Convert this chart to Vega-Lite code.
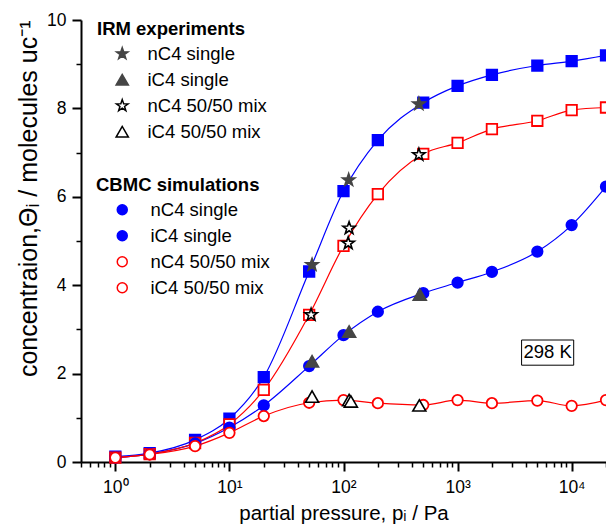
{
  "$schema": "https://vega.github.io/schema/vega-lite/v6.json",
  "width": 525,
  "height": 442,
  "autosize": {"type": "none"},
  "padding": {"left": 81, "top": 20, "right": 0, "bottom": 67},
  "background": "white",
  "config": {
    "view": {"stroke": null},
    "font": "Liberation Sans",
    "axis": {
      "grid": false,
      "domainColor": "black",
      "domainWidth": 2,
      "tickColor": "black",
      "labelColor": "black",
      "titleColor": "black",
      "labelFont": "Liberation Sans",
      "titleFont": "Liberation Sans",
      "labelFontSize": 17.5,
      "titleFontSize": 20.5,
      "titleFontWeight": "normal",
      "labelOverlap": false,
      "labelFlush": false
    },
    "legend": {
      "labelFont": "Liberation Sans",
      "titleFont": "Liberation Sans",
      "labelFontSize": 18.5,
      "titleFontSize": 18.5,
      "titleFontWeight": "bold",
      "labelColor": "black",
      "titleColor": "black",
      "padding": 0,
      "rowPadding": 7,
      "titlePadding": 6,
      "symbolStrokeWidth": 1.5
    }
  },
  "datasets": {
    "cbmc": [
      {"p": 1, "theta": 0.12, "sim": "nC4 single"},
      {"p": 2, "theta": 0.2, "sim": "nC4 single"},
      {"p": 5, "theta": 0.5, "sim": "nC4 single"},
      {"p": 10, "theta": 0.98, "sim": "nC4 single"},
      {"p": 20, "theta": 1.92, "sim": "nC4 single"},
      {"p": 50, "theta": 4.31, "sim": "nC4 single"},
      {"p": 100, "theta": 6.13, "sim": "nC4 single"},
      {"p": 200, "theta": 7.28, "sim": "nC4 single"},
      {"p": 500, "theta": 8.13, "sim": "nC4 single"},
      {"p": 1000, "theta": 8.51, "sim": "nC4 single"},
      {"p": 2000, "theta": 8.76, "sim": "nC4 single"},
      {"p": 5000, "theta": 8.97, "sim": "nC4 single"},
      {"p": 10000, "theta": 9.07, "sim": "nC4 single"},
      {"p": 20000, "theta": 9.2, "sim": "nC4 single"},
      {"p": 1, "theta": 0.1, "sim": "iC4 single"},
      {"p": 2, "theta": 0.18, "sim": "iC4 single"},
      {"p": 5, "theta": 0.42, "sim": "iC4 single"},
      {"p": 10, "theta": 0.78, "sim": "iC4 single"},
      {"p": 20, "theta": 1.28, "sim": "iC4 single"},
      {"p": 50, "theta": 2.17, "sim": "iC4 single"},
      {"p": 100, "theta": 2.87, "sim": "iC4 single"},
      {"p": 200, "theta": 3.4, "sim": "iC4 single"},
      {"p": 500, "theta": 3.82, "sim": "iC4 single"},
      {"p": 1000, "theta": 4.06, "sim": "iC4 single"},
      {"p": 2000, "theta": 4.3, "sim": "iC4 single"},
      {"p": 5000, "theta": 4.76, "sim": "iC4 single"},
      {"p": 10000, "theta": 5.36, "sim": "iC4 single"},
      {"p": 20000, "theta": 6.23, "sim": "iC4 single"},
      {"p": 1, "theta": 0.1, "sim": "nC4 50/50 mix"},
      {"p": 2, "theta": 0.18, "sim": "nC4 50/50 mix"},
      {"p": 5, "theta": 0.43, "sim": "nC4 50/50 mix"},
      {"p": 10, "theta": 0.85, "sim": "nC4 50/50 mix"},
      {"p": 20, "theta": 1.63, "sim": "nC4 50/50 mix"},
      {"p": 50, "theta": 3.33, "sim": "nC4 50/50 mix"},
      {"p": 100, "theta": 4.89, "sim": "nC4 50/50 mix"},
      {"p": 200, "theta": 6.06, "sim": "nC4 50/50 mix"},
      {"p": 500, "theta": 6.97, "sim": "nC4 50/50 mix"},
      {"p": 1000, "theta": 7.22, "sim": "nC4 50/50 mix"},
      {"p": 2000, "theta": 7.53, "sim": "nC4 50/50 mix"},
      {"p": 5000, "theta": 7.72, "sim": "nC4 50/50 mix"},
      {"p": 10000, "theta": 7.96, "sim": "nC4 50/50 mix"},
      {"p": 20000, "theta": 8.02, "sim": "nC4 50/50 mix"},
      {"p": 1, "theta": 0.1, "sim": "iC4 50/50 mix"},
      {"p": 2, "theta": 0.17, "sim": "iC4 50/50 mix"},
      {"p": 5, "theta": 0.36, "sim": "iC4 50/50 mix"},
      {"p": 10, "theta": 0.66, "sim": "iC4 50/50 mix"},
      {"p": 20, "theta": 1.04, "sim": "iC4 50/50 mix"},
      {"p": 50, "theta": 1.34, "sim": "iC4 50/50 mix"},
      {"p": 100, "theta": 1.4, "sim": "iC4 50/50 mix"},
      {"p": 200, "theta": 1.33, "sim": "iC4 50/50 mix"},
      {"p": 500, "theta": 1.29, "sim": "iC4 50/50 mix"},
      {"p": 1000, "theta": 1.4, "sim": "iC4 50/50 mix"},
      {"p": 2000, "theta": 1.33, "sim": "iC4 50/50 mix"},
      {"p": 5000, "theta": 1.39, "sim": "iC4 50/50 mix"},
      {"p": 10000, "theta": 1.27, "sim": "iC4 50/50 mix"},
      {"p": 20000, "theta": 1.4, "sim": "iC4 50/50 mix"}
    ],
    "irm": [
      {"p": 53, "theta": 4.46, "exp": "nC4 single"},
      {"p": 111, "theta": 6.38, "exp": "nC4 single"},
      {"p": 458, "theta": 8.1, "exp": "nC4 single"},
      {"p": 53, "theta": 2.28, "exp": "iC4 single"},
      {"p": 112, "theta": 2.95, "exp": "iC4 single"},
      {"p": 466, "theta": 3.79, "exp": "iC4 single"},
      {"p": 52, "theta": 3.33, "exp": "nC4 50/50 mix"},
      {"p": 110, "theta": 4.95, "exp": "nC4 50/50 mix"},
      {"p": 112, "theta": 5.29, "exp": "nC4 50/50 mix"},
      {"p": 458, "theta": 6.95, "exp": "nC4 50/50 mix"},
      {"p": 53, "theta": 1.48, "exp": "iC4 50/50 mix"},
      {"p": 112, "theta": 1.4, "exp": "iC4 50/50 mix"},
      {"p": 116, "theta": 1.37, "exp": "iC4 50/50 mix"},
      {"p": 462, "theta": 1.28, "exp": "iC4 50/50 mix"}
    ],
    "note": [
      {"p": 6150, "theta": 2.48, "p_lo": 3640, "p_hi": 10420, "theta_lo": 2.19, "theta_hi": 2.76, "label": "298 K"}
    ]
  },
  "encoding": {
    "x": {
      "field": "p",
      "type": "quantitative",
      "scale": {"type": "log", "domain": [0.5, 20000], "nice": false},
      "axis": {
        "title": "partial pressure, pᵢ / Pa",
        "values": [0.5, 0.6, 0.7, 0.8, 0.9, 1, 2, 3, 4, 5, 6, 7, 8, 9, 10, 20, 30, 40, 50, 60, 70, 80, 90, 100, 200, 300, 400, 500, 600, 700, 800, 900, 1000, 2000, 3000, 4000, 5000, 6000, 7000, 8000, 9000, 10000, 20000],
        "labelExpr": "abs(log(datum.value) / LN10 - round(log(datum.value) / LN10)) < 1e-6 ? '10' + ['⁰', '¹', '²', '³', '⁴'][round(log(datum.value) / LN10)] : ''",
        "tickSize": {"condition": {"test": "abs(log(datum.value) / LN10 - round(log(datum.value) / LN10)) < 1e-6", "value": 9}, "value": 5},
        "tickWidth": {"condition": {"test": "abs(log(datum.value) / LN10 - round(log(datum.value) / LN10)) < 1e-6", "value": 2}, "value": 1.5},
        "labelPadding": 7,
        "titlePadding": 8
      }
    },
    "y": {
      "field": "theta",
      "type": "quantitative",
      "scale": {"domain": [0, 10], "nice": false},
      "axis": {
        "title": "concentraion,Θᵢ / molecules uc⁻¹",
        "titleFontSize": 25,
        "values": [0, 1, 2, 3, 4, 5, 6, 7, 8, 9, 10],
        "labelExpr": "datum.value % 2 == 0 ? datum.label : ''",
        "tickSize": {"condition": {"test": "datum.value % 2 == 0", "value": 9}, "value": 5},
        "tickWidth": {"condition": {"test": "datum.value % 2 == 0", "value": 2}, "value": 1.5},
        "labelPadding": 6,
        "titlePadding": 5,
        "titleAnchor": "end"
      }
    }
  },
  "layer": [
    {
      "data": {"name": "cbmc"},
      "layer": [
        {
          "transform": [{"filter": {"field": "sim", "oneOf": ["nC4 single", "iC4 single"]}}],
          "mark": {"type": "line", "interpolate": "monotone", "strokeWidth": 1.2, "color": "#0000ff"},
          "encoding": {"detail": {"field": "sim", "type": "nominal"}}
        },
        {
          "transform": [{"filter": {"field": "sim", "oneOf": ["nC4 50/50 mix", "iC4 50/50 mix"]}}],
          "mark": {"type": "line", "interpolate": "monotone", "strokeWidth": 1.2, "color": "#ff0000"},
          "encoding": {"detail": {"field": "sim", "type": "nominal"}}
        },
        {
          "transform": [{"filter": {"field": "sim", "oneOf": ["nC4 single", "nC4 50/50 mix"]}}],
          "mark": {"type": "point", "shape": "square", "size": 110, "strokeWidth": 1.8, "opacity": 1},
          "encoding": {
            "fill": {
              "field": "sim",
              "type": "nominal",
              "scale": {"domain": ["nC4 single", "iC4 single", "nC4 50/50 mix", "iC4 50/50 mix"], "range": ["#0000ff", "#0000ff", "#ffffff", "#ffffff"]},
              "legend": {
                "title": "CBMC simulations",
                "orient": "none",
                "legendX": 15,
                "legendY": 156,
                "symbolSize": 100,
                "symbolOffset": 17,
                "labelOffset": 19,
                "encode": {
                  "symbols": {
                    "shape": {"value": {"expr": "indexof(['nC4 single', 'nC4 50/50 mix'], datum.value) >= 0 ? 'M-4.7,0H-1M1,0H4.7M-1,-1H1V1H-1Z' : 'M-4.7,0H-1M1,0H4.7M-1,0A1,1 0 1,1 1,0A1,1 0 1,1 -1,0Z'"}}
                  }
                }
              }
            },
            "stroke": {
              "field": "sim",
              "type": "nominal",
              "scale": {"domain": ["nC4 single", "iC4 single", "nC4 50/50 mix", "iC4 50/50 mix"], "range": ["#0000ff", "#0000ff", "#ff0000", "#ff0000"]},
              "legend": {"title": "CBMC simulations"}
            }
          }
        },
        {
          "transform": [{"filter": {"field": "sim", "oneOf": ["iC4 single", "iC4 50/50 mix"]}}],
          "mark": {"type": "point", "shape": "circle", "size": 110, "strokeWidth": 1.8, "opacity": 1},
          "encoding": {
            "fill": {
              "field": "sim",
              "type": "nominal",
              "legend": {"title": "CBMC simulations"}
            },
            "stroke": {
              "field": "sim",
              "type": "nominal",
              "legend": {"title": "CBMC simulations"}
            }
          }
        }
      ]
    },
    {
      "data": {"name": "irm"},
      "mark": {"type": "point", "size": 170, "strokeWidth": 1.6, "opacity": 1},
      "encoding": {
        "shape": {
          "field": "exp",
          "type": "nominal",
          "scale": {"domain": ["nC4 single", "iC4 single", "nC4 50/50 mix", "iC4 50/50 mix"], "range": ["M0,-1L0.235,-0.324L0.951,-0.309L0.38,0.124L0.588,0.809L0,0.4L-0.588,0.809L-0.38,0.124L-0.951,-0.309L-0.235,-0.324Z", "triangle-up", "M0,-1L0.235,-0.324L0.951,-0.309L0.38,0.124L0.588,0.809L0,0.4L-0.588,0.809L-0.38,0.124L-0.951,-0.309L-0.235,-0.324Z", "triangle-up"]},
          "legend": {
            "title": "IRM experiments",
            "orient": "none",
            "legendX": 16,
            "legendY": 0,
            "symbolSize": 150,
            "symbolOffset": 16,
            "labelOffset": 16
          }
        },
        "fill": {
          "field": "exp",
          "type": "nominal",
          "scale": {"domain": ["nC4 single", "iC4 single", "nC4 50/50 mix", "iC4 50/50 mix"], "range": ["#454545", "#454545", "#ffffff", "#ffffff"]},
          "legend": {"title": "IRM experiments"}
        },
        "stroke": {
          "field": "exp",
          "type": "nominal",
          "scale": {"domain": ["nC4 single", "iC4 single", "nC4 50/50 mix", "iC4 50/50 mix"], "range": ["#454545", "#454545", "#000000", "#000000"]},
          "legend": {"title": "IRM experiments"}
        }
      }
    },
    {
      "data": {"name": "note"},
      "mark": {"type": "rect", "fill": "white", "stroke": "black", "strokeWidth": 1},
      "encoding": {
        "x": {"field": "p_lo", "type": "quantitative"},
        "x2": {"field": "p_hi"},
        "y": {"field": "theta_lo", "type": "quantitative"},
        "y2": {"field": "theta_hi"}
      }
    },
    {
      "data": {"name": "note"},
      "mark": {"type": "text", "fontSize": 18.5, "font": "Liberation Sans", "color": "black", "align": "center", "baseline": "middle"},
      "encoding": {
        "text": {"field": "label"}
      }
    }
  ],
  "resolve": {"scale": {"shape": "independent", "fill": "independent", "stroke": "independent"}}
}
